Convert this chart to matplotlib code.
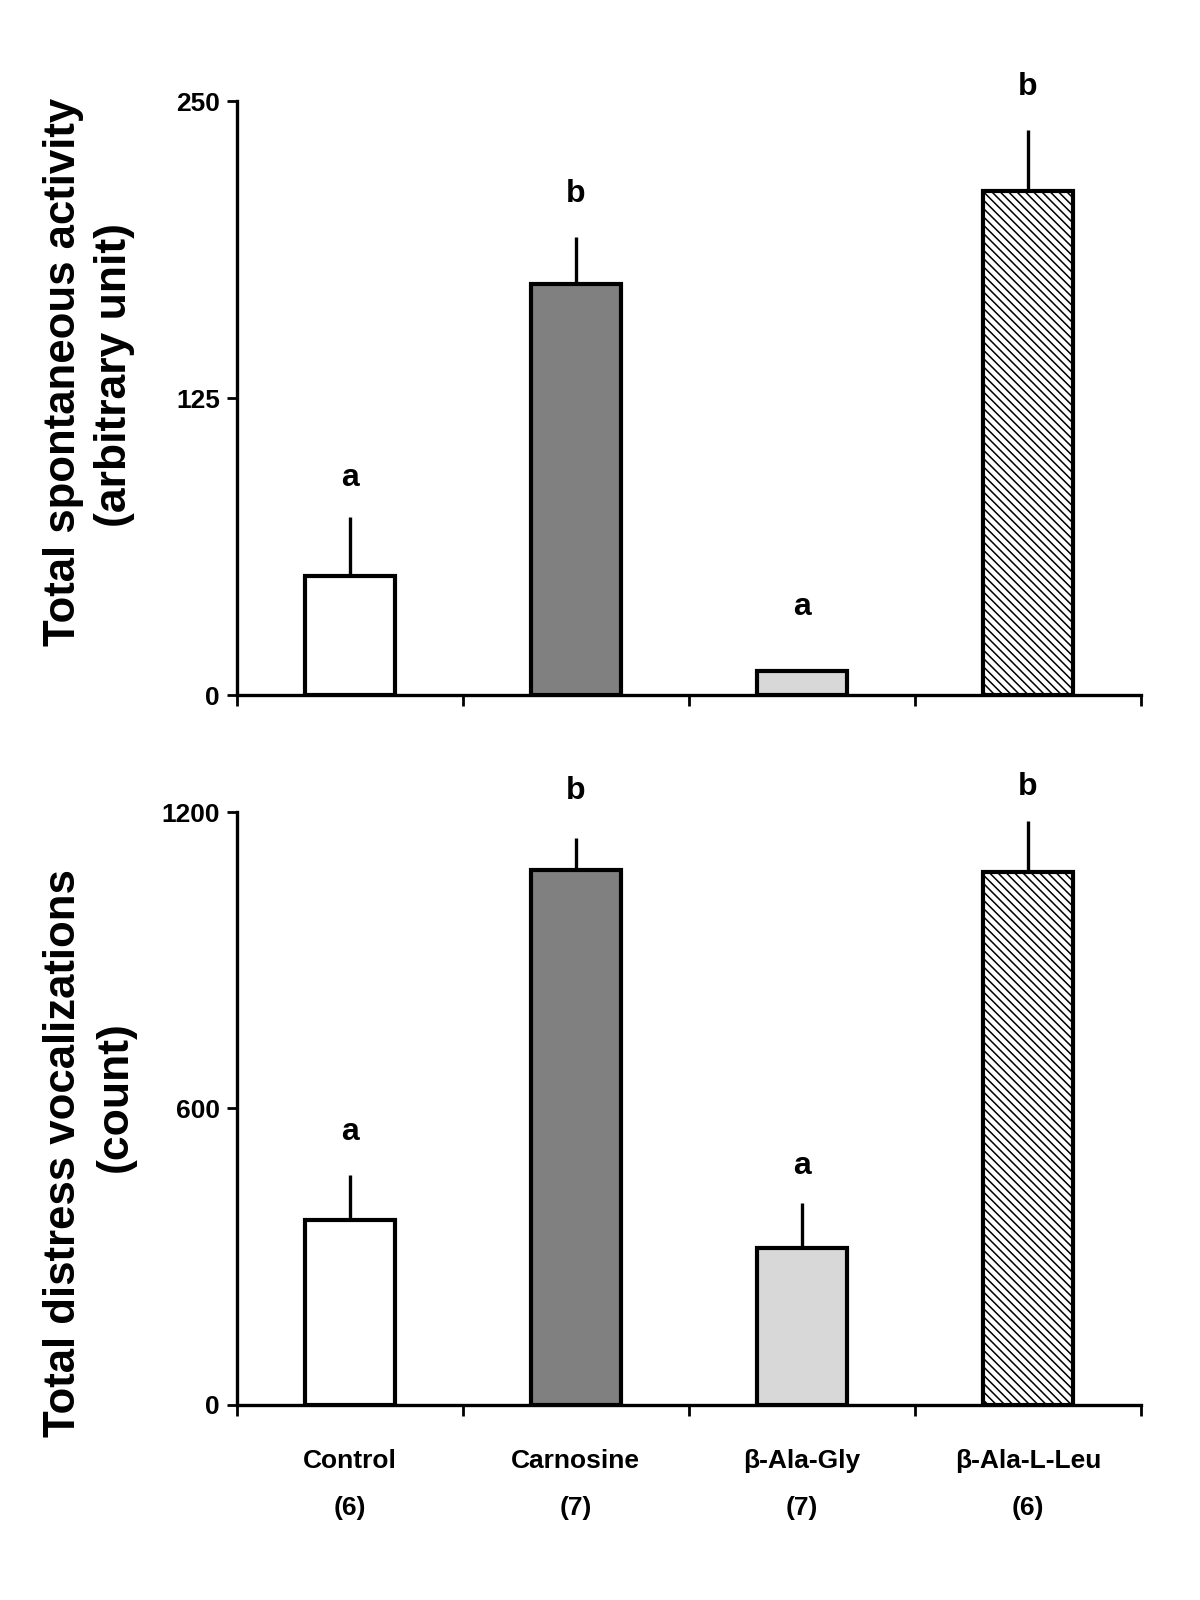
"""Spontaneous activity and distress vocalizations by dipeptide treatment."""
import numpy as np
import matplotlib
matplotlib.use('Agg')
import matplotlib.pyplot as plt

plt.rcParams['font.family'] = ['Liberation Sans', 'DejaVu Sans']
plt.rcParams['font.weight'] = 'bold'
plt.rcParams['hatch.linewidth'] = 1.1

groups = ['Control', 'Carnosine', 'β-Ala-Gly', 'β-Ala-L-Leu']
n_per_group = ['(6)', '(7)', '(7)', '(6)']

activity_mean = [50, 173, 10, 212]
activity_sem = [25, 20, 1, 26]
activity_letters = ['a', 'b', 'a', 'b']
activity_letter_y = [91.5, 211, 37, 256]

vocal_mean = [374, 1082, 318, 1078]
vocal_sem = [91, 66, 91, 103]
vocal_letters = ['a', 'b', 'a', 'b']
vocal_letter_y = [552, 1243, 483, 1250]

faces = ['white', '#808080', '#d8d8d8', 'white']
hatches = [None, None, None, '\\\\\\\\']

x = np.arange(len(groups))
W = 0.4


def draw_panel(ax, means, sems, letters, letter_y, ymax, yticks):
    for i in range(len(groups)):
        # fill layer (hatch colour follows edgecolor, so draw outline separately)
        ax.bar(x[i], means[i], W, color=faces[i], hatch=hatches[i],
               edgecolor='black', linewidth=0, zorder=2)
        ax.bar(x[i], means[i], W, fill=False, edgecolor='black',
               linewidth=3, zorder=3)
    ax.errorbar(x, means, yerr=[np.zeros(len(sems)), sems], fmt='none',
                ecolor='black', elinewidth=2.4, capsize=0, zorder=1)
    for i, lab in enumerate(letters):
        ax.text(x[i], letter_y[i], lab, ha='center', va='center',
                fontsize=23, fontweight='bold', clip_on=False)
    ax.set_xlim(-0.5, len(groups) - 0.5)
    ax.set_ylim(0, ymax)
    ax.set_yticks(yticks)
    ax.set_yticklabels([str(t) for t in yticks], fontsize=19, fontweight='bold')
    ax.set_xticks(np.arange(len(groups) + 1) - 0.5)
    ax.set_xticklabels([])
    for s in ['top', 'right']:
        ax.spines[s].set_visible(False)
    for s in ['left', 'bottom']:
        ax.spines[s].set_linewidth(2.4)
    ax.tick_params(axis='y', direction='out', length=7, width=2, pad=5)
    ax.tick_params(axis='x', direction='out', length=8, width=2)


fig = plt.figure(figsize=(12, 16), dpi=100)
ax1 = fig.add_axes([0.1973, 0.5656, 0.7534, 0.3712])
ax2 = fig.add_axes([0.1973, 0.1219, 0.7534, 0.3706])

draw_panel(ax1, activity_mean, activity_sem, activity_letters,
           activity_letter_y, 250, [0, 125, 250])
draw_panel(ax2, vocal_mean, vocal_sem, vocal_letters,
           vocal_letter_y, 1200, [0, 600, 1200])

for i, g in enumerate(groups):
    ax2.text(x[i], -0.0944, g, transform=ax2.get_xaxis_transform(),
             ha='center', va='center', fontsize=19, fontweight='bold')
    ax2.text(x[i], -0.1737, n_per_group[i], transform=ax2.get_xaxis_transform(),
             ha='center', va='center', fontsize=19, fontweight='bold')

fig.text(0.0533, 0.7675, 'Total spontaneous activity', rotation=90,
         ha='center', va='center', fontsize=31.5, fontweight='bold')
fig.text(0.0958, 0.7656, '(arbitrary unit)', rotation=90,
         ha='center', va='center', fontsize=32, fontweight='bold')
fig.text(0.0533, 0.2794, 'Total distress vocalizations', rotation=90,
         ha='center', va='center', fontsize=31.5, fontweight='bold')
fig.text(0.0958, 0.3144, '(count)', rotation=90,
         ha='center', va='center', fontsize=32, fontweight='bold')

plt.savefig('out.png', dpi=100)
